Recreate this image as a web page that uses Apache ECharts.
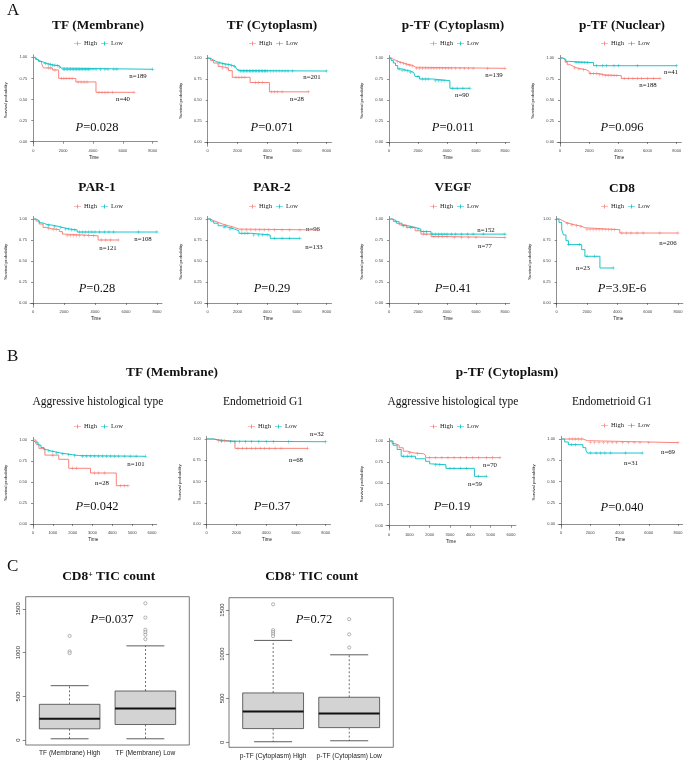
<!DOCTYPE html>
<html>
<head>
<meta charset="utf-8">
<script src="https://cdn.jsdelivr.net/npm/echarts@6/dist/echarts.min.js"></script>
<style>
html,body{margin:0;padding:0;background:#fff}
#main{width:686px;height:762px}
</style>
</head>
<body>
<div id="main"></div>
<script>
// ---- KM curves: [time, survival] step points, censor times ----
var tfMemHigh = [[0,1],[150,0.975],[350,0.95],[550,0.925],[680,0.874],[1280,0.85],[1700,0.75],[2850,0.708],[4200,0.585],[6750,0.585]]
var tfMemLow = [[0,1],[100,0.99],[200,0.98],[300,0.965],[400,0.955],[500,0.945],[650,0.935],[800,0.925],[1000,0.915],[1200,0.905],[1500,0.9],[1750,0.885],[1850,0.872],[1950,0.858],[8000,0.858]]
var tfMemHighCens = [1000,1150,1450,1900,2050,2200,2400,2600,3000,3200,3400,3600,4400,4600,4800,5000,5300,6750]
var tfMemLowCens = [800,1000,1150,1300,1450,1600,1750,2000,2100,2200,2300,2400,2500,2600,2700,2800,2900,3000,3100,3200,3300,3400,3500,3600,3700,3800,4000,4200,4500,4800,5000,5400,5600,8000]

var tfCytHigh = [[0,1],[200,0.97],[400,0.94],[700,0.9],[900,0.88],[1400,0.85],[1650,0.77],[2850,0.708],[4150,0.597],[6770,0.597]]
var tfCytLow = [[0,1],[100,0.99],[250,0.975],[400,0.96],[550,0.95],[700,0.94],[900,0.93],[1200,0.92],[1500,0.91],[1700,0.9],[1850,0.88],[1950,0.865],[2050,0.85],[2200,0.845],[8000,0.845]]
var tfCytHighCens = [1000,1300,1900,2100,2300,2500,3200,3400,3700,4300,4500,4700,5000,6770]
var tfCytLowCens = [800,1000,1200,1400,1600,1800,2100,2200,2300,2400,2500,2600,2700,2800,2900,3000,3100,3200,3300,3400,3500,3600,3700,3800,3900,4000,4200,4400,4600,4800,5000,5200,5400,5700,8000]

var ptfCytHigh = [[0,1],[150,0.985],[300,0.97],[500,0.955],[700,0.945],[900,0.935],[1100,0.925],[1300,0.915],[1550,0.905],[1700,0.89],[1850,0.877],[8000,0.877]]
var ptfCytLow = [[0,1],[150,0.97],[300,0.94],[450,0.91],[600,0.87],[900,0.855],[1200,0.845],[1450,0.83],[1700,0.81],[1800,0.78],[2100,0.75],[3000,0.73],[4200,0.64],[5580,0.64]]
var ptfCytHighCens = [600,800,1000,1200,1400,1600,1900,2100,2300,2500,2700,2900,3100,3300,3500,3700,3900,4100,4300,4600,4900,5200,5500,5800,6800,8000]
var ptfCytLowCens = [700,900,1100,1300,1500,2000,2300,2500,2700,3200,3400,3600,3800,4400,4700,5100,5580]

var ptfNucHigh = [[0,1],[200,0.98],[350,0.95],[500,0.92],[700,0.9],[900,0.88],[1200,0.87],[1500,0.86],[1800,0.84],[2000,0.815],[2700,0.8],[3000,0.79],[4200,0.757],[6860,0.757]]
var ptfNucLow = [[0,1],[200,0.985],[400,0.96],[600,0.945],[2300,0.908],[8000,0.908]]
var ptfNucHighCens = [1000,1300,1600,2100,2300,2500,2700,2900,3100,3300,3500,3700,3900,4400,4700,5000,5300,5600,6000,6400,6860]
var ptfNucLowCens = [1100,1300,1500,1700,1900,2500,2900,3200,3700,4000,5300,8000]

var par1High = [[0,1],[200,0.975],[400,0.94],[650,0.9],[900,0.885],[1200,0.875],[1700,0.85],[1900,0.82],[2100,0.8],[4200,0.75],[5500,0.75]]
var par1Low = [[0,1],[200,0.98],[400,0.955],[600,0.935],[900,0.925],[1300,0.91],[1700,0.895],[2000,0.88],[2400,0.87],[2850,0.845],[8000,0.845]]
var par1HighCens = [1000,1300,1500,2200,2400,2600,2800,3000,3300,3600,3900,4400,4700,5000,5500]
var par1LowCens = [1000,1400,1800,2100,2300,2500,2700,3000,3200,3400,3600,3800,4000,4300,4600,4900,5200,6800,8000]

var par2High = [[0,1],[200,0.98],[400,0.96],[700,0.94],[1000,0.92],[1400,0.9],[1800,0.88],[2100,0.87],[7400,0.87]]
var par2Low = [[0,1],[200,0.975],[400,0.95],[700,0.92],[1000,0.9],[1400,0.88],[1800,0.86],[2100,0.83],[2900,0.81],[4200,0.77],[6200,0.77]]
var par2HighCens = [1200,1600,2300,2600,2900,3200,3500,3800,4100,4500,5000,5500,6200,7400]
var par2LowCens = [1100,1500,2300,2500,2700,3100,3400,3700,4000,4500,5000,5500,6200]

var vegfHigh = [[0,1],[300,0.97],[700,0.93],[1200,0.9],[1800,0.86],[2200,0.82],[2900,0.79],[4200,0.78],[8000,0.78]]
var vegfLow = [[0,1],[200,0.98],[500,0.95],[900,0.92],[1300,0.9],[1800,0.88],[2200,0.85],[2900,0.82],[8000,0.82]]
var vegfHighCens = [1300,1600,2400,2600,3100,3400,3700,4000,4500,5000,5500,6000,8000]
var vegfLowCens = [1000,1500,2000,2400,2600,3000,3200,3400,3600,3800,4000,4300,4600,5000,5400,5800,6500,8000]

var cd8High = [[0,1],[200,0.98],[400,0.96],[600,0.945],[900,0.93],[1200,0.92],[1500,0.91],[1700,0.895],[1860,0.873],[4160,0.833],[8000,0.833]]
var cd8Low = [[0,1],[150,0.96],[330,0.87],[450,0.81],[610,0.742],[770,0.695],[1650,0.635],[1860,0.556],[2850,0.417],[3730,0.417]]
var cd8HighCens = [700,1000,1300,1600,2000,2200,2400,2600,2800,3000,3200,3400,3600,3800,4300,4600,4900,5300,5700,6800,8000]
var cd8LowCens = [800,1500,2000,2500,3730]

var aggTfHigh = [[0,1],[150,0.95],[300,0.9],[600,0.82],[1300,0.77],[1800,0.663],[2900,0.607],[4200,0.456],[4790,0.456]]
var aggTfLow = [[0,1],[100,0.975],[250,0.94],[400,0.91],[550,0.885],[700,0.87],[900,0.86],[1100,0.845],[1400,0.835],[1700,0.825],[2000,0.815],[2300,0.806],[5660,0.806]]
var aggTfHighCens = [1000,2000,2200,3100,3300,3600,4400,4600,4790]
var aggTfLowCens = [800,1000,1200,1500,1800,2100,2500,2700,2900,3100,3300,3500,3700,3900,4100,4300,4600,4900,5200,5660]

var g1TfHigh = [[0,1],[400,0.99],[700,0.98],[1500,0.97],[1900,0.89],[6790,0.89]]
var g1TfLow = [[0,1],[500,0.985],[900,0.975],[1300,0.968],[8000,0.968]]
var g1TfHighCens = [800,1000,1200,2100,2400,2700,3000,3300,3600,3900,4200,4600,5000,6790]
var g1TfLowCens = [1000,1600,1900,2200,2600,3000,3500,4000,4500,5500,8000]

var aggPtfHigh = [[0,1],[150,0.97],[300,0.95],[500,0.92],[700,0.88],[900,0.86],[1200,0.85],[1700,0.83],[1800,0.803],[5460,0.803]]
var aggPtfLow = [[0,1],[200,0.95],[400,0.9],[600,0.82],[1300,0.79],[1800,0.76],[2000,0.73],[2100,0.72],[2800,0.677],[4200,0.583],[4800,0.583]]
var aggPtfHighCens = [1000,1400,2000,2300,2600,2900,3200,3500,3800,4100,4400,4800,5100,5460]
var aggPtfLowCens = [700,900,1100,2300,2500,3000,3200,3500,3800,4400,4800]

var g1PtfHigh = [[0,1],[1500,0.98],[1800,0.957],[8000,0.957]]
var g1PtfLow = [[0,1],[250,0.965],[500,0.933],[1500,0.898],[1700,0.87],[1800,0.835],[5570,0.835]]
var g1PtfHighCens = [600,800,1000,1200,1400,2000,2300,2600,2900,3200,3500,3800,4200,4600,5000,5400,6000,8000]
var g1PtfLowCens = [700,1000,2000,2400,2700,3000,3400,4400,5570]

// ---- box plots: [min, Q1, median, Q3, max] and outliers ----
var boxCatsTF = ['TF (Membrane) High', 'TF (Membrane) Low']
var boxTFHigh = [16, 130, 244, 410, 623]
var boxTFLow = [16, 179, 361, 562, 1078]
var outTFHigh = [1192, 1014, 995]
var outTFLow = [1565, 1401, 1262, 1235, 1205, 1155]

var boxCatsPTF = ['p-TF (Cytoplasm) High', 'p-TF (Cytoplasm) Low']
var boxPTFHigh = [8, 157, 351, 561, 1156]
var boxPTFLow = [19, 168, 329, 512, 993]
var outPTFHigh = [1565, 1272, 1250, 1228, 1205]
var outPTFLow = [1397, 1225, 1076]

var RED = '#F8766D', CYAN = '#00BFC4'
var SERIF = 'Liberation Serif', SANS = 'Liberation Sans'
var PLUS = 'path://M0,4.2H10V5.8H0Z M4.2,0H5.8V10H4.2Z'
var LEG_ICON = 'path://M0,4.3H14V5.7H0Z M6.2,1H7.8V9H6.2Z'

// layout of the panels (pixel geometry + text positions)
var panels = [
    {title:'TF (Membrane)', bold:true, tx:98, ty:26, lx:96, ly:44, x0:33.3, xT:152.7, y1:57.3, y0:141.7, T:8000,
     high:tfMemHigh, low:tfMemLow, hc:tfMemHighCens, lc:tfMemLowCens, nh:['n=40',123,99], nl:['n=189',138,76], p:['0.028',97,128]},
    {title:'TF (Cytoplasm)', bold:true, tx:272, ty:26, lx:271, ly:44, x0:207.7, xT:326.7, y1:58, y0:142, T:8000,
     high:tfCytHigh, low:tfCytLow, hc:tfCytHighCens, lc:tfCytLowCens, nh:['n=28',297,99], nl:['n=201',312,77], p:['0.071',272,128]},
    {title:'p-TF (Cytoplasm)', bold:true, tx:453, ty:26, lx:452, ly:44, x0:389, xT:505, y1:58, y0:142, T:8000,
     high:ptfCytHigh, low:ptfCytLow, hc:ptfCytHighCens, lc:ptfCytLowCens, nh:['n=139',494,75], nl:['n=90',462,95], p:['0.011',453,128]},
    {title:'p-TF (Nuclear)', bold:true, tx:622, ty:26, lx:623, ly:44, x0:560, xT:676.7, y1:58, y0:142, T:8000,
     high:ptfNucHigh, low:ptfNucLow, hc:ptfNucHighCens, lc:ptfNucLowCens, nh:['n=188',648,85], nl:['n=41',671,72], p:['0.096',622,128]},
    {title:'PAR-1', bold:true, tx:97, ty:188, lx:96, ly:207, x0:33, xT:157, y1:219, y0:303, T:8000,
     high:par1High, low:par1Low, hc:par1HighCens, lc:par1LowCens, nh:['n=121',108,248], nl:['n=108',143,239], p:['0.28',97,289]},
    {title:'PAR-2', bold:true, tx:272, ty:188, lx:271, ly:207, x0:207.7, xT:326.7, y1:219, y0:303, T:8000,
     high:par2High, low:par2Low, hc:par2HighCens, lc:par2LowCens, nh:['n=96',313,229], nl:['n=133',314,247], p:['0.29',272,289]},
    {title:'VEGF', bold:true, tx:453, ty:188, lx:452, ly:207, x0:389, xT:505, y1:219, y0:303, T:8000,
     high:vegfHigh, low:vegfLow, hc:vegfHighCens, lc:vegfLowCens, nh:['n=77',485,246], nl:['n=152',486,230], p:['0.41',453,289]},
    {title:'CD8', bold:true, tx:622, ty:189, lx:623, ly:207, x0:556.7, xT:678, y1:219, y0:303, T:8000,
     high:cd8High, low:cd8Low, hc:cd8HighCens, lc:cd8LowCens, nh:['n=206',668,243], nl:['n=23',583,268], p:['3.9E-6',622,289]},
    {title:'Aggressive histological type', bold:false, tx:98, ty:402, lx:96, ly:427, x0:33, xT:152, y1:440, y0:524, T:6000,
     high:aggTfHigh, low:aggTfLow, hc:aggTfHighCens, lc:aggTfLowCens, nh:['n=28',102,483], nl:['n=101',136,464], p:['0.042',97,507]},
    {title:'Endometrioid G1', bold:false, tx:263, ty:402, lx:270, ly:427, x0:206.7, xT:325.7, y1:439, y0:524, T:8000,
     high:g1TfHigh, low:g1TfLow, hc:g1TfHighCens, lc:g1TfLowCens, nh:['n=68',296,460], nl:['n=32',317,434], p:['0.37',272,507]},
    {title:'Aggressive histological type', bold:false, tx:453, ty:402, lx:452, ly:427, x0:389, xT:511, y1:441, y0:525.7, T:6000,
     high:aggPtfHigh, low:aggPtfLow, hc:aggPtfHighCens, lc:aggPtfLowCens, nh:['n=70',490,465], nl:['n=59',475,484], p:['0.19',452,507]},
    {title:'Endometrioid G1', bold:false, tx:612, ty:402, lx:623, ly:426, x0:561, xT:678, y1:439, y0:524, T:8000,
     high:g1PtfHigh, low:g1PtfLow, hc:g1PtfHighCens, lc:g1PtfLowCens, nh:['n=69',668,452], nl:['n=31',631,463], p:['0.040',622,508]}
]

var boxPanels = [
    {cats:boxCatsTF, high:boxTFHigh, low:boxTFLow, oh:outTFHigh, ol:outTFLow, left:25.7, top:596.7, width:163.6, height:148.3, tx:108.7, p:['0.037',112,620]},
    {cats:boxCatsPTF, high:boxPTFHigh, low:boxPTFLow, oh:outPTFHigh, ol:outPTFLow, left:229, top:597.7, width:164.3, height:149.6, tx:311.7, p:['0.72',314,620]}
]

function survAt(curve, t) {
    var s = 1
    curve.forEach(function (p) { if (p[0] <= t) s = p[1] })
    return s
}

function ticksOf(T) {
    var step = T === 6000 ? 1000 : 2000, out = []
    for (var v = 0; v <= T; v += step) out.push(v)
    return out
}

function plain(v) { return String(v) }

function txt(text, x, y, size, opts) {
    opts = opts || {}
    return {
        type: 'text', x: x, y: y, silent: true,
        style: {
            text: text, fill: opts.color || '#111', fontSize: size,
            fontFamily: opts.family || SERIF, fontWeight: opts.weight || 'normal',
            align: opts.align || 'center', verticalAlign: 'middle', rich: opts.rich
        }
    }
}

function pText(val, x, y) {
    return txt('{i|P}{r|=' + val + '}', x, y, 12, {
        rich: {
            i: {fontSize: 12.5, fontStyle: 'italic', fontFamily: SERIF, fill: '#111'},
            r: {fontSize: 12.5, fontFamily: SERIF, fill: '#111'}
        }
    })
}

var grids = [], xAxes = [], yAxes = [], series = [], legends = [], graphics = []
var axisColor = '#444'

panels.forEach(function (p, i) {
    var ppx = (p.xT - p.x0) / p.T
    var ppy = p.y0 - p.y1
    grids.push({left: p.x0 - 0.025 * p.T * ppx, top: p.y1 - 0.03 * ppy, width: 1.065 * p.T * ppx, height: 1.08 * ppy, containLabel: false})
    var ticks = ticksOf(p.T)
    xAxes.push({
        gridIndex: i, type: 'value', min: -0.025 * p.T, max: 1.04 * p.T,
        axisLine: {show: true, lineStyle: {color: axisColor, width: 0.6}},
        axisTick: {show: true, length: 2, customValues: ticks, lineStyle: {color: axisColor, width: 0.6}},
        axisLabel: {customValues: ticks, fontSize: 4, margin: 2.5, color: '#444', fontFamily: SANS, formatter: plain},
        splitLine: {show: false},
        name: 'Time', nameLocation: 'middle', nameGap: 9,
        nameTextStyle: {fontSize: 4.6, color: '#222', fontFamily: SANS}
    })
    yAxes.push({
        gridIndex: i, type: 'value', min: -0.05, max: 1.03,
        axisLine: {show: true, lineStyle: {color: axisColor, width: 0.6}},
        axisTick: {show: true, length: 2, customValues: [0, 0.25, 0.5, 0.75, 1], lineStyle: {color: axisColor, width: 0.6}},
        axisLabel: {customValues: [0, 0.25, 0.5, 0.75, 1], fontSize: 4, margin: 3, color: '#444', fontFamily: SANS,
            formatter: function (v) { return v.toFixed(2) }},
        splitLine: {show: false},
        name: 'Survival probability', nameLocation: 'middle', nameGap: 22, nameRotate: 90,
        nameTextStyle: {fontSize: 4.3, color: '#222', fontFamily: SANS}
    })
    ;[['High', p.high, p.hc, RED], ['Low', p.low, p.lc, CYAN]].forEach(function (g) {
        series.push({
            name: g[0], type: 'line', xAxisIndex: i, yAxisIndex: i, data: g[1], step: 'end',
            showSymbol: false, color: g[3], lineStyle: {color: g[3], width: 0.9}, silent: true, z: 2
        })
        series.push({
            name: g[0], type: 'scatter', xAxisIndex: i, yAxisIndex: i,
            data: g[2].map(function (t) { return [t, survAt(g[1], t)] }),
            symbol: PLUS, symbolSize: 3.4, itemStyle: {color: g[3]}, silent: true, z: 3
        })
    })
    legends.push({
        data: [{name: 'High', icon: LEG_ICON}, {name: 'Low', icon: LEG_ICON}],
        left: p.lx - 22, top: p.ly - 4, itemWidth: 7, itemHeight: 5, itemGap: 4, padding: 0,
        selectedMode: false, textStyle: {fontSize: 6.5, fontFamily: SERIF, color: '#222', padding: [0, 0, 0, -2]}
    })
    graphics.push(txt(p.title, p.tx, p.ty, p.bold ? 13.3 : 11.5, {weight: p.bold ? 'bold' : 'normal'}))
    graphics.push(txt(p.nh[0], p.nh[1], p.nh[2], 6.8))
    graphics.push(txt(p.nl[0], p.nl[1], p.nl[2], 6.8))
    graphics.push(pText(p.p[0], p.p[1], p.p[2]))
})

function renderBox(params, api) {
    var x = api.value(0), lo = api.value(1), q1 = api.value(2), md = api.value(3), q3 = api.value(4), hi = api.value(5)
    var tl = api.coord([x - 0.4, q3]), br = api.coord([x + 0.4, q1])
    var xc = api.coord([x, md])[0], ym = api.coord([x, md])[1]
    var yHi = api.coord([x, hi])[1], yLo = api.coord([x, lo])[1]
    var cL = api.coord([x - 0.25, hi])[0], cR = api.coord([x + 0.25, hi])[0]
    var dash = {stroke: '#333', lineWidth: 0.7, lineDash: [2, 2]}
    var solid = {stroke: '#333', lineWidth: 0.8}
    return {
        type: 'group', children: [
            {type: 'line', shape: {x1: xc, y1: tl[1], x2: xc, y2: yHi}, style: dash},
            {type: 'line', shape: {x1: xc, y1: br[1], x2: xc, y2: yLo}, style: dash},
            {type: 'line', shape: {x1: cL, y1: yHi, x2: cR, y2: yHi}, style: solid},
            {type: 'line', shape: {x1: cL, y1: yLo, x2: cR, y2: yLo}, style: solid},
            {type: 'rect', shape: {x: tl[0], y: tl[1], width: br[0] - tl[0], height: br[1] - tl[1]}, style: {fill: '#D3D3D3', stroke: '#444', lineWidth: 0.8}},
            {type: 'line', shape: {x1: tl[0], y1: ym, x2: br[0], y2: ym}, style: {stroke: '#111', lineWidth: 2}}
        ]
    }
}

boxPanels.forEach(function (b, k) {
    var i = panels.length + k
    grids.push({left: b.left, top: b.top, width: b.width, height: b.height, containLabel: false,
        show: true, borderColor: '#555', borderWidth: 0.8, backgroundColor: 'transparent'})
    xAxes.push({
        gridIndex: i, type: 'value', min: 0.42, max: 2.58,
        axisLine: {show: false}, axisTick: {show: false}, splitLine: {show: false},
        axisLabel: {customValues: [1, 2], fontSize: 6.6, margin: 5, color: '#222', fontFamily: SANS,
            formatter: function (v) { return b.cats[Math.round(v) - 1] }}
    })
    yAxes.push({
        gridIndex: i, type: 'value', min: -55, max: 1640,
        axisLine: {show: false}, splitLine: {show: false},
        axisTick: {show: true, length: 3, customValues: [0, 500, 1000, 1500], lineStyle: {color: '#555', width: 0.7}},
        axisLabel: {customValues: [0, 500, 1000, 1500], rotate: 90, fontSize: 6, margin: 4, color: '#333', fontFamily: SANS, formatter: plain}
    })
    series.push({
        type: 'custom', xAxisIndex: i, yAxisIndex: i, renderItem: renderBox, silent: true,
        encode: {x: 0, y: [1, 2, 3, 4, 5]},
        data: [[1].concat(b.high), [2].concat(b.low)]
    })
    series.push({
        type: 'scatter', xAxisIndex: i, yAxisIndex: i, symbol: 'circle', symbolSize: 3.2, silent: true,
        itemStyle: {color: '#fff', borderColor: '#666', borderWidth: 0.6},
        data: b.oh.map(function (v) { return [1, v] }).concat(b.ol.map(function (v) { return [2, v] }))
    })
    graphics.push(txt('{a|CD8}{s|+}{a| TIC count}', b.tx, 577, 13.4, {
        rich: {
            a: {fontSize: 13.4, fontWeight: 'bold', fontFamily: SERIF, fill: '#111'},
            s: {fontSize: 8, fontWeight: 'bold', fontFamily: SERIF, fill: '#111', verticalAlign: 'top'}
        }
    }))
    graphics.push(pText(b.p[0], b.p[1], b.p[2]))
})

// section letters and group headings
graphics.push(txt('A', 7, 11, 17, {align: 'left'}))
graphics.push(txt('B', 7, 357, 17, {align: 'left'}))
graphics.push(txt('C', 7, 567, 17, {align: 'left'}))
graphics.push(txt('TF (Membrane)', 172, 373, 13.3, {weight: 'bold'}))
graphics.push(txt('p-TF (Cytoplasm)', 507, 373, 13.3, {weight: 'bold'}))

var myChart = echarts.init(document.getElementById('main'), null, {renderer: 'canvas'})
myChart.setOption({
    animation: false,
    backgroundColor: '#fff',
    grid: grids,
    xAxis: xAxes,
    yAxis: yAxes,
    legend: legends,
    series: series,
    graphic: graphics
})
</script>
</body>
</html>
